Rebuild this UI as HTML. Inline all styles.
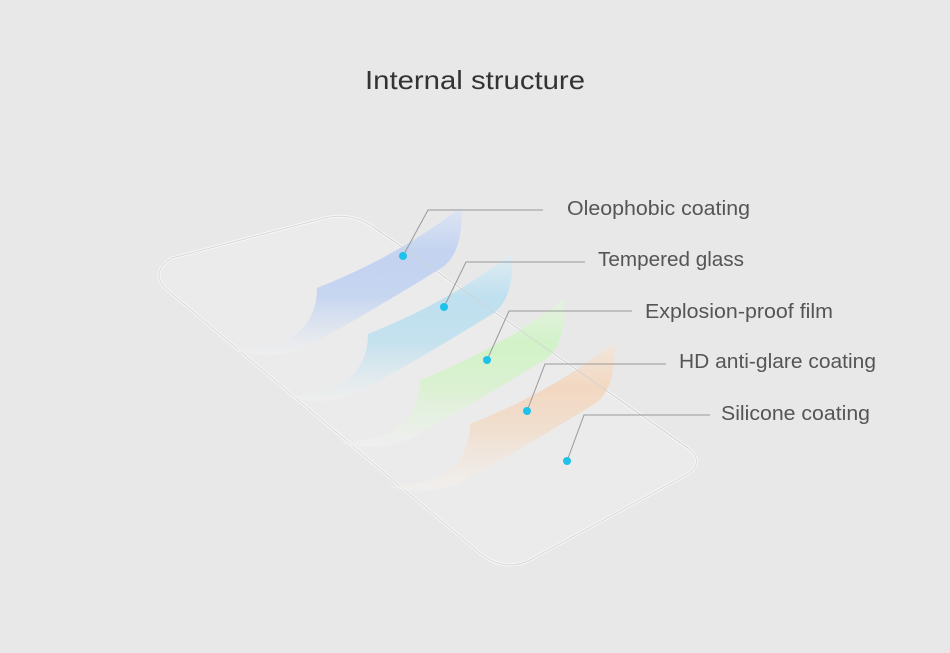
<!DOCTYPE html>
<html><head><meta charset="utf-8"><style>
html,body{margin:0;padding:0;background:#e8e8e8;}
svg{display:block}
text{font-family:"Liberation Sans",sans-serif;}
</style></head><body>
<svg width="950" height="653" viewBox="0 0 950 653" xmlns="http://www.w3.org/2000/svg">
<defs>
<linearGradient id="g1" x1="0" y1="0" x2="0" y2="1"><stop offset="0" stop-color="#dfe6f3"/><stop offset="0.3" stop-color="#c3d3f0"/><stop offset="0.6" stop-color="#c6d5f0"/><stop offset="1" stop-color="#f0f0f0" stop-opacity="0.7"/></linearGradient>
<linearGradient id="g2" x1="0" y1="0" x2="0" y2="1"><stop offset="0" stop-color="#e2edf2"/><stop offset="0.3" stop-color="#bfe0ef"/><stop offset="0.6" stop-color="#c4e1ee"/><stop offset="1" stop-color="#f0f0f0" stop-opacity="0.7"/></linearGradient>
<linearGradient id="g3" x1="0" y1="0" x2="0" y2="1"><stop offset="0" stop-color="#e6f2e2"/><stop offset="0.3" stop-color="#d2f2c8"/><stop offset="0.6" stop-color="#dbf1d2"/><stop offset="1" stop-color="#f0f0f0" stop-opacity="0.7"/></linearGradient>
<linearGradient id="g4" x1="0" y1="0" x2="0" y2="1"><stop offset="0" stop-color="#f2e6dc"/><stop offset="0.3" stop-color="#f2d8c2"/><stop offset="0.6" stop-color="#f0dfd0"/><stop offset="1" stop-color="#f2f0ee" stop-opacity="0.7"/></linearGradient>
</defs>
<rect width="950" height="653" fill="#e8e8e8"/>
<text x="475" y="89" text-anchor="middle" font-size="26" fill="#333" textLength="220" lengthAdjust="spacingAndGlyphs">Internal structure</text>
<path d="M172 258 L325 218 Q350 212 372 226 L688 448 Q705 462 688 474 L530 560 Q505 572 482 555 L165 288 Q150 272 172 258 Z" fill="#ebebeb" stroke="#f7f7f7" stroke-width="3"/>
<path d="M172 258 L325 218 Q350 212 372 226 L688 448 Q705 462 688 474 L530 560 Q505 572 482 555 L165 288 Q150 272 172 258 Z" fill="none" stroke="#d8d8d8" stroke-width="1"/>
<g>
<path d="M317 288 Q400 255 461 207 Q464 250 443 267 Q370 312 307 347 Q280 358 250 354 Q240 352 237 350 Q280 348 295 335 Q317 318 317 288 Z" fill="url(#g1)"/>
<path d="M368 334 Q451 301 512 253 Q515 296 494 313 Q421 358 358 393 Q331 404 301 400 Q291 398 288 396 Q331 394 346 381 Q368 364 368 334 Z" fill="url(#g2)"/>
<path d="M420 380 Q503 347 564 299 Q567 342 546 359 Q473 404 410 439 Q383 450 353 446 Q343 444 340 442 Q383 440 398 427 Q420 410 420 380 Z" fill="url(#g3)"/>
<path d="M470 424 Q553 391 614 343 Q617 386 596 403 Q523 448 460 483 Q433 494 403 490 Q393 488 390 486 Q433 484 448 471 Q470 454 470 424 Z" fill="url(#g4)"/>
</g>
<path d="M372 226 L688 448" stroke="#d2d2d2" stroke-width="1" fill="none" opacity="0.8"/>
<g stroke="#999" stroke-width="1" fill="none">
<polyline points="403,256 428,210 543,210"/>
<polyline points="444,307 466,262 585,262"/>
<polyline points="487,360 509,311 632,311"/>
<polyline points="527,411 545,364 666,364"/>
<polyline points="567,461 584,415 710,415"/>
</g>
<g fill="#1ec1ea">
<circle cx="403" cy="256" r="4"/>
<circle cx="444" cy="307" r="4"/>
<circle cx="487" cy="360" r="4"/>
<circle cx="527" cy="411" r="4"/>
<circle cx="567" cy="461" r="4"/>
</g>
<g font-size="20" fill="#555">
<text x="567" y="215" textLength="183" lengthAdjust="spacingAndGlyphs">Oleophobic coating</text>
<text x="598" y="266" textLength="146" lengthAdjust="spacingAndGlyphs">Tempered glass</text>
<text x="645" y="318" textLength="188" lengthAdjust="spacingAndGlyphs">Explosion-proof film</text>
<text x="679" y="368" textLength="197" lengthAdjust="spacingAndGlyphs">HD anti-glare coating</text>
<text x="721" y="420" textLength="149" lengthAdjust="spacingAndGlyphs">Silicone coating</text>
</g>
</svg>
</body></html>
